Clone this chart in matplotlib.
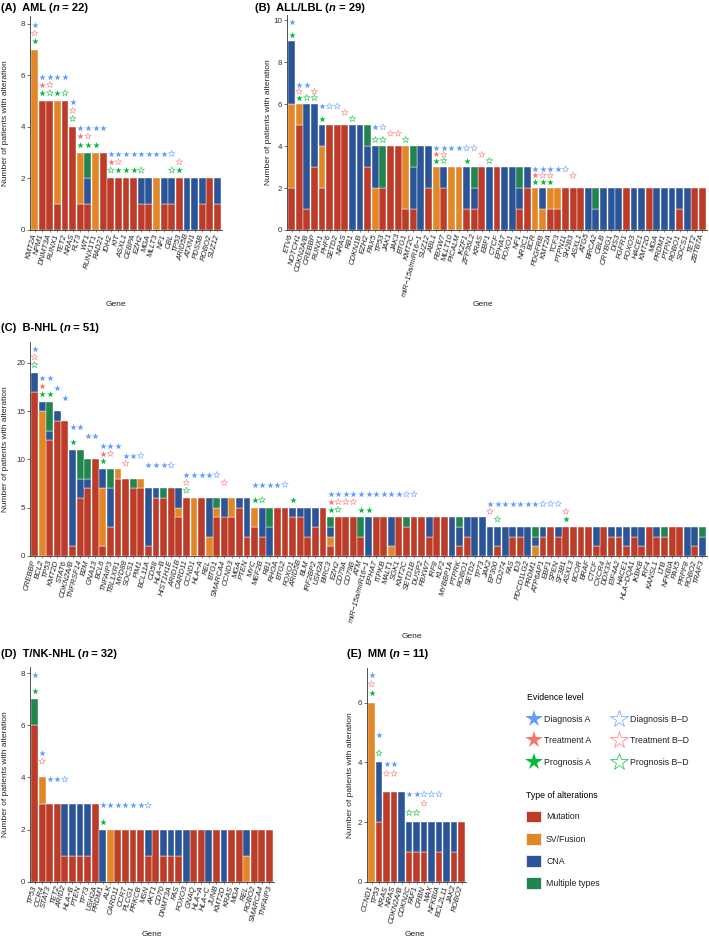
import numpy as np
import matplotlib
matplotlib.use('Agg')
import matplotlib.pyplot as plt
from matplotlib.lines import Line2D
from matplotlib.patches import Patch

plt.rcParams['font.family'] = ['Liberation Sans', 'DejaVu Sans']

# ---- data: counts per alteration type (mutation, SV/fusion, CNA, multiple) ----
# stars: 3 chars per gene -> diagnosis, treatment, prognosis ; F = level A, O = level B-D, - = none

genes_a = ['KMT2A', 'NPM1', 'DNMT3A', 'RUNX1', 'TET2', 'NRAS', 'FLT3', 'WT1', 'RUNX1T1', 'RAD21',
           'IDH2', 'KIT', 'ASXL1', 'CEBPA', 'EZH2', 'MGA', 'MLLT3', 'NF1', 'CBL', 'TP53',
           'ARID5B', 'ATXN1', 'PDS5B', 'ROBO2', 'SUZ12']
mut_a = [0, 5, 5, 1, 5, 4, 1, 1, 0, 3, 2, 2, 2, 2, 1, 1, 0, 1, 1, 2, 0, 0, 1, 2, 1]
sv_a = [7, 0, 0, 4, 0, 0, 2, 0, 3, 0, 0, 0, 0, 0, 0, 0, 2, 0, 0, 0, 0, 0, 0, 0, 0]
cna_a = [0, 0, 0, 0, 0, 0, 0, 1, 0, 0, 0, 0, 0, 0, 1, 1, 0, 1, 1, 0, 2, 2, 1, 0, 1]
multi_a = [0, 0, 0, 0, 0, 0, 0, 1, 0, 0, 0, 0, 0, 0, 0, 0, 0, 0, 0, 0, 0, 0, 0, 0, 0]
stars_a = ['FOF', 'FFF', 'FOO', 'F-F', 'F-O', 'FOO', 'FFF', 'FOF', 'F-F', 'F--',
           'FFO', 'FOF', 'F-F', 'F-F', 'F-O', 'F--', 'F--', 'F--', 'O-O', '-OF',
           '---', '---', '---', '---', '---']

genes_b = ['ETV6', 'NOTCH1', 'CDKN2A/B', 'CREBBP', 'RUNX1', 'PHF6', 'SETD2', 'NRAS', 'RB1', 'CDKN1B',
           'EZH2', 'PAX5', 'TP53', 'JAK1', 'JAK3', 'BTG1', 'KMT2C', 'miR\u221215a/miR16\u22121', 'SUZ12', 'ABL1',
           'FBXW7', 'MLLT10', 'PICALM', 'IKZF1', 'ZFP36L2', 'KRAS', 'EBF1', 'CTCF', 'EPHA7', 'FOXO1',
           'NF1', 'NR3C1', 'BCR', 'PDGFRB', 'KMT2A', 'TCF3', 'PTPN11', 'SH2B3', 'ASXL1', 'ATG5',
           'BRCA2', 'CBLB', 'CRYBG1', 'DIS3', 'FGFR1', 'FOXO3', 'HACE1', 'KMT2D', 'MGA', 'PRDM1',
           'PTPN1', 'ROBO1', 'SOCS1', 'TET2', 'ZBTB7A']
mut_b = [2, 5, 1, 3, 2, 5, 5, 5, 0, 0, 3, 0, 2, 4, 4, 1, 1, 0, 2, 0,
         2, 0, 0, 1, 1, 3, 0, 3, 0, 0, 1, 2, 0, 0, 1, 1, 2, 2, 2, 0,
         0, 0, 0, 0, 2, 0, 0, 2, 0, 0, 0, 1, 0, 2, 2]
sv_b = [4, 1, 0, 0, 2, 0, 0, 0, 0, 0, 0, 2, 0, 0, 0, 3, 0, 0, 0, 3,
        0, 3, 3, 0, 0, 0, 0, 0, 0, 0, 0, 0, 2, 1, 1, 1, 0, 0, 0, 0,
        0, 0, 0, 0, 0, 0, 0, 0, 0, 0, 0, 0, 0, 0, 0]
cna_b = [3, 0, 5, 3, 1, 0, 0, 0, 5, 5, 1, 2, 0, 0, 0, 0, 2, 4, 2, 0,
         1, 0, 0, 2, 1, 0, 3, 0, 3, 3, 1, 1, 0, 1, 0, 0, 0, 0, 0, 2,
         1, 2, 2, 2, 0, 2, 2, 0, 2, 2, 2, 1, 2, 0, 0]
multi_b = [0, 0, 0, 0, 0, 0, 0, 0, 0, 0, 1, 0, 2, 0, 0, 0, 1, 0, 0, 0,
           0, 0, 0, 0, 1, 0, 0, 0, 0, 0, 1, 0, 0, 0, 0, 0, 0, 0, 0, 0,
           1, 0, 0, 0, 0, 0, 0, 0, 0, 0, 0, 0, 0, 0, 0]
stars_b = ['F-F', 'FOF', 'F-O', '-OO', 'F-F', 'O--', 'O--', '-O-', '--O', '---',
           '---', 'F-O', 'O-O', '-O-', '-O-', '--O', '---', '---', '---', 'FFF',
           'FOO', 'F--', 'F--', 'O-F', 'O--', '-O-', '--O', '---', '---', '---',
           '---', '---', 'FFF', 'FOF', 'FOF', 'F--', 'O--', '-O-', '---', '---',
           '---', '---', '---', '---', '---', '---', '---', '---', '---', '---',
           '---', '---', '---', '---', '---']

genes_c = ['CREBBP', 'BCL2', 'TP53', 'KMT2D', 'STAT6', 'CDKN2A/B', 'TNFRSF14', 'B2M', 'GNA13', 'BCL6',
           'TNFAIP3', 'TBL1XR1', 'MYD88', 'SOCS1', 'PIM1', 'BCL11A', 'CD58', 'HLA\u2212B', 'HIST1H1E', 'ARID1B',
           'CARD11', 'CCND1', 'HLA\u2212A', 'REL', 'BTG1', 'SMARCA4', 'CCND3', 'MGA', 'PTEN', 'MYC',
           'MEF2B', 'RB1', 'RHOA', 'BTG2', 'FOXO1', 'ARID5B', 'BLM', 'IRF2BP2', 'USH2A', 'BIRC3',
           'EZH2', 'CD79A', 'CD79B', 'ATM', 'miR\u221215a/miR16\u22121', 'EPHA7', 'ITPKB', 'MALT1', 'SGK1', 'KMT2C',
           'SETD1B', 'DUSP2', 'FBXW7', 'IRF8', 'KLF2', 'MYBBP1A', 'PTPRK', 'ROBO1', 'SETD2', 'TP73',
           'JAK2', 'EP300', 'CD274', 'FAS', 'ID3', 'PDCD1LG2', 'PRDM1', 'ATP6AP1', 'EBF1', 'SPEN',
           'SF3B1', 'ASXL3', 'BCOR', 'BRAF', 'CTCF', 'CXCR4', 'DDX3X', 'EIF4A2', 'HACE1', 'HLA\u2212DQA1',
           'IKBKB', 'IRF4', 'KANSL1', 'LTB', 'NFKBIA', 'PAX5', 'PRPF8', 'ROBO2', 'TRAF3']
mut_c = [17, 0, 12, 14, 14, 1, 6, 7, 10, 1, 3, 8, 8, 7, 7, 1, 6, 6, 7, 4,
         6, 0, 6, 0, 4, 4, 4, 5, 2, 3, 2, 0, 5, 5, 4, 4, 2, 3, 5, 1,
         4, 4, 4, 2, 0, 4, 4, 0, 4, 3, 4, 4, 2, 4, 4, 0, 1, 2, 0, 0,
         0, 1, 0, 2, 2, 0, 0, 2, 3, 2, 3, 3, 3, 3, 1, 3, 2, 2, 1, 2,
         1, 3, 2, 2, 3, 3, 0, 1, 0]
sv_c = [0, 15, 0, 0, 0, 0, 0, 0, 0, 6, 0, 1, 0, 0, 1, 0, 0, 0, 0, 1,
        0, 6, 0, 2, 1, 0, 2, 0, 0, 2, 0, 0, 0, 0, 0, 0, 0, 0, 0, 1,
        0, 0, 0, 0, 0, 0, 0, 1, 0, 0, 0, 0, 0, 0, 0, 0, 0, 0, 0, 0,
        0, 0, 0, 0, 0, 0, 1, 0, 0, 0, 0, 0, 0, 0, 0, 0, 0, 0, 0, 0,
        0, 0, 0, 0, 0, 0, 0, 0, 0]
cna_c = [2, 1, 1, 1, 0, 10, 2, 1, 0, 2, 4, 0, 0, 0, 0, 6, 1, 0, 0, 2,
         0, 0, 0, 4, 0, 2, 0, 1, 4, 0, 3, 3, 0, 0, 1, 1, 3, 2, 0, 1,
         0, 0, 0, 0, 4, 0, 0, 3, 0, 0, 0, 0, 2, 0, 0, 4, 2, 2, 4, 4,
         3, 2, 3, 1, 1, 3, 1, 1, 0, 1, 0, 0, 0, 0, 2, 0, 1, 1, 2, 1,
         2, 0, 1, 0, 0, 0, 3, 2, 2]
multi_c = [0, 0, 3, 0, 0, 0, 3, 2, 0, 0, 2, 0, 0, 1, 0, 0, 0, 1, 0, 0,
           0, 0, 0, 0, 1, 0, 0, 0, 0, 0, 0, 2, 0, 0, 0, 0, 0, 0, 0, 1,
           0, 0, 0, 2, 0, 0, 0, 0, 0, 1, 0, 0, 0, 0, 0, 0, 1, 0, 0, 0,
           0, 0, 0, 0, 0, 0, 1, 0, 0, 0, 0, 0, 0, 0, 0, 0, 0, 0, 0, 0,
           0, 0, 0, 1, 0, 0, 0, 0, 1]
stars_c = ['FOO', 'FFF', 'F-F', 'F--', 'F--', 'F-F', 'F--', 'F--', 'F--', 'FFF',
           'FO-', 'F--', 'FO-', 'F--', 'O--', 'F--', 'F--', 'F--', 'O--', '---',
           'FOO', 'F--', 'F--', 'F--', 'O--', '-O-', '---', '---', '---', 'F-F',
           'F-O', 'F--', 'F--', 'O--', '--F', '---', '---', '---', '---', 'FFF',
           'FOO', 'FO-', 'FO-', 'F-F', 'F-F', 'F--', 'F--', 'F--', 'F--', 'O--',
           'O--', '---', '---', '---', '---', '---', '---', '---', '---', '---',
           'FO-', 'F-O', 'F--', 'F--', 'F--', 'F--', 'F--', 'O--', 'O--', 'O--',
           '-OF', '---', '---', '---', '---', '---', '---', '---', '---', '---',
           '---', '---', '---', '---', '---', '---', '---', '---', '---']

genes_d = ['TP53', 'CCR4', 'STAT3', 'TET2', 'ARID2', 'HLA\u2212B', 'PTEN', 'TP73', 'USH2A', 'PRDM1',
           'ALK', 'CARD11', 'CCR7', 'PLCG1', 'PRKCB', 'MSN', 'AKT1', 'CD70', 'DNMT3A', 'FAS',
           'FOXO3', 'GNAQ', 'HLA\u2212A', 'HLA\u2212C', 'JUNB', 'KMT2D', 'KRAS', 'MGA', 'REL', 'ROBO2',
           'SMARCA4', 'TNFAIP3']
mut_d = [6, 3, 3, 3, 1, 1, 1, 1, 3, 0, 0, 2, 2, 2, 2, 1, 2, 1, 1, 1,
         0, 2, 2, 0, 2, 0, 2, 2, 0, 2, 2, 2]
sv_d = [0, 1, 0, 0, 0, 0, 0, 0, 0, 0, 2, 0, 0, 0, 0, 0, 0, 0, 0, 0,
        0, 0, 0, 0, 0, 0, 0, 0, 1, 0, 0, 0]
cna_d = [0, 0, 0, 0, 2, 2, 2, 2, 0, 2, 0, 0, 0, 0, 0, 1, 0, 1, 1, 1,
         2, 0, 0, 2, 0, 2, 0, 0, 1, 0, 0, 0]
multi_d = [1, 0, 0, 0, 0, 0, 0, 0, 0, 0, 0, 0, 0, 0, 0, 0, 0, 0, 0, 0,
           0, 0, 0, 0, 0, 0, 0, 0, 0, 0, 0, 0]
stars_d = ['F-F', 'FO-', 'F--', 'F--', 'O--', '---', '---', '---', '---', 'F-F',
           'F--', 'F--', 'F--', 'F--', 'F--', 'O--', '---', '---', '---', '---',
           '---', '---', '---', '---', '---', '---', '---', '---', '---', '---',
           '---', '---']

genes_e = ['CCND1', 'TP53', 'KRAS', 'NRAS', 'CDKN2A/B', 'CDKN2C', 'FAF1', 'CRBN', 'MAX', 'NFKBIA',
           'BCL2L11', 'JAK2', 'ROBO2']
mut_e = [0, 2, 3, 3, 0, 1, 1, 1, 0, 1, 0, 1, 2]
sv_e = [6, 0, 0, 0, 0, 0, 0, 0, 0, 0, 0, 0, 0]
cna_e = [0, 2, 0, 0, 3, 1, 1, 1, 2, 1, 2, 1, 0]
multi_e = [0, 0, 0, 0, 0, 0, 0, 0, 0, 0, 0, 0, 0]
stars_e = ['FOF', 'F-O', 'FO-', 'FO-', '---', 'F-O', 'F-O', 'OO-', 'O--', 'O--',
           '---', '---', '---']

type_names = ['Mutation', 'SV/Fusion', 'CNA', 'Multiple types']
type_colors = ['#BC3C29', '#E18727', '#2B5597', '#20854E']
evidence_names = ['Diagnosis', 'Treatment', 'Prognosis']
star_colors = ['#619CFF', '#F8766D', '#00BA38']

W, H = 709, 939
fig = plt.figure(figsize=(W / 100, H / 100), dpi=100)
overlay = fig.add_axes([0, 0, 1, 1])
overlay.axis('off')
overlay.set_xlim(0, W)
overlay.set_ylim(H, 0)

TXT = '#222222'


def px_box(left, right, top, bottom):
	return [left / W, 1 - bottom / H, (right - left) / W, (bottom - top) / H]


def panel_title(x, y, tag, name, n):
	t1 = overlay.text(x, y, f'{tag}  {name} (', fontsize=8, weight='bold', va='bottom', color='black')
	t2 = overlay.annotate('n', xy=(1, 0), xycoords=t1, va='bottom', fontsize=8, weight='bold', style='italic')
	overlay.annotate(f' = {n})', xy=(1, 0), xycoords=t2, va='bottom', fontsize=8, weight='bold')


def draw_panel(box, genes, counts, stars, ymax, yticks, step, xlab, ylab_x):
	left, right, top, bottom_px = box
	ax = fig.add_axes(px_box(*box), zorder=2)
	ax.patch.set_alpha(0)
	x = np.arange(len(genes))
	base = np.zeros(len(genes))
	for vals, color in zip(counts, type_colors):
		vals = np.array(vals, dtype=float)
		nz = vals > 0
		ax.bar(x[nz], vals[nz], bottom=base[nz], width=0.9, color=color, edgecolor='white', linewidth=0.3)
		base += vals

	for k, color in enumerate(star_colors):
		lift = (3 - k) * step
		filled = np.array([s[k] == 'F' for s in stars])
		hollow = np.array([s[k] == 'O' for s in stars])
		ax.scatter(x[filled], base[filled] + lift, marker='*', s=24, color=color, linewidths=0, zorder=3)
		ax.scatter(x[hollow], base[hollow] + lift, marker='*', s=24, facecolors='none',
		           edgecolors=color, linewidths=0.45, alpha=0.8, zorder=3)

	ax.set_xlim(-0.6, len(genes) - 0.4)
	ax.set_ylim(0, ymax)
	ax.set_yticks(yticks)
	ax.set_xticks(x)
	ax.set_xticklabels(genes, rotation=75, ha='right', va='center', rotation_mode='anchor',
	                   fontsize=5.6, style='italic', color=TXT)
	ax.tick_params(axis='y', labelsize=5.8, length=2, width=0.5, pad=1.5, colors='#333333')
	ax.tick_params(axis='x', length=1.5, width=0.4, pad=1.5, colors='#333333')
	for lbl in ax.get_xticklabels():
		lbl.set_color(TXT)
	for side in ['top', 'right']:
		ax.spines[side].set_visible(False)
	for side in ['left', 'bottom']:
		ax.spines[side].set_linewidth(0.6)
		ax.spines[side].set_color('#333333')

	ax.set_ylabel('Number of patients with alteration', fontsize=6, color=TXT)
	ax.yaxis.set_label_coords((ylab_x - left) / (right - left), 0.5)
	ax.yaxis.label.set_va('center')
	ax.set_xlabel('Gene', fontsize=6, color=TXT)
	ax.xaxis.set_label_coords((xlab[0] - left) / (right - left), (bottom_px - xlab[1]) / (bottom_px - top))
	ax.xaxis.label.set_va('center')
	return ax


draw_panel((30, 222, 16, 230), genes_a, [mut_a, sv_a, cna_a, multi_a], stars_a,
           8.31, [0, 2, 4, 6, 8], 0.32, (116, 305), 6)
draw_panel((287, 707, 15, 230), genes_b, [mut_b, sv_b, cna_b, multi_b], stars_b,
           10.25, [0, 2, 4, 6, 8, 10], 0.3, (483, 305), 268)
draw_panel((30, 707, 342, 556), genes_c, [mut_c, sv_c, cna_c, multi_c], stars_c,
           22.17, [0, 5, 10, 15, 20], 0.8, (412, 637), 6)
draw_panel((30, 274, 667, 881.7), genes_d, [mut_d, sv_d, cna_d, multi_d], stars_d,
           8.24, [0, 2, 4, 6, 8], 0.31, (152, 935), 6)
draw_panel((367, 466, 668, 881.7), genes_e, [mut_e, sv_e, cna_e, multi_e], stars_e,
           7.16, [0, 2, 4, 6], 0.31, (415, 935), 350)

panel_title(1, 13, '(A)', 'AML', 22)
panel_title(255, 13, '(B)', 'ALL/LBL', 29)
panel_title(1, 333, '(C)', 'B-NHL', 51)
panel_title(1, 659, '(D)', 'T/NK-NHL', 32)
panel_title(347, 659, '(E)', 'MM', 11)

# legends
ev_handles = []
ev_labels = []
for fill, level in [(True, 'A'), (False, 'B\u2013D')]:
	for name, color in zip(evidence_names, star_colors):
		if fill:
			h = Line2D([], [], ls='none', marker='*', markersize=13, color=color, markeredgewidth=0)
		else:
			h = Line2D([], [], ls='none', marker='*', markersize=13, markerfacecolor='none',
			           markeredgecolor=color, markeredgewidth=0.6, alpha=0.8)
		ev_handles.append(h)
		ev_labels.append(f'{name} {level}')

leg1 = fig.legend(ev_handles, ev_labels, loc='upper left', bbox_to_anchor=(527 / W, 1 - 693 / H),
                  frameon=False, ncol=2, title='Evidence level', alignment='left', fontsize=6.3,
                  title_fontsize=6.3, handlelength=1.5, handletextpad=0.5, columnspacing=2.4,
                  labelspacing=1.45, borderpad=0, borderaxespad=0)
for t in leg1.get_texts():
	t.set_color(TXT)

type_handles = [Patch(facecolor=c, edgecolor='white', linewidth=0.5) for c in type_colors]
leg2 = fig.legend(type_handles, type_names, loc='upper left', bbox_to_anchor=(526 / W, 1 - 791 / H),
                  frameon=False, title='Type of alterations', alignment='left', fontsize=6.3,
                  title_fontsize=6.3, handlelength=1.7, handleheight=1.7, handletextpad=0.6,
                  labelspacing=1.2, borderpad=0, borderaxespad=0)
for t in leg2.get_texts():
	t.set_color(TXT)

fig.savefig('out.png', dpi=100)
